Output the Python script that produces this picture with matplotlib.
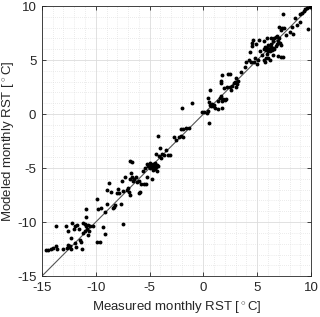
import matplotlib
matplotlib.use("Agg")
import matplotlib.pyplot as plt
from matplotlib.ticker import MultipleLocator

# Виміряні та змодельовані місячні RST (°C)
measured = [
    -14.6, -14.4, -14.2, -14.0, -13.7, -13.6, -13.7, -13.0, -12.7, -12.5,
    -12.6, -12.4, -12.3, -12.8, -12.6, -12.2, -12.0, -11.9, -11.7, -11.6,
    -12.3, -11.9, -11.8, -11.5, -11.4, -11.3, -11.2, -11.0, -10.9, -10.8,
    -10.7, -10.6, -10.5, -10.3, -11.0, -11.2, -10.7, -10.9, -10.9, -9.9,
    -9.6, -9.8, -9.5, -9.9, -9.3, -9.1, -9.1, -9.0, -9.0, -8.8,
    -8.6, -8.4, -8.3, -8.2, -8.0, -7.8, -7.7, -7.5, -7.9, -7.6,
    -7.5, -7.3, -7.1, -7.0, -6.9, -6.8, -6.7, -6.6, -6.5, -6.4,
    -6.3, -6.2, -6.0, -5.8, -6.0, -5.9, -6.8, -6.8, -6.6, -5.6,
    -5.4, -5.5, -5.3, -5.0, -4.9, -4.8, -4.7, -4.6, -4.5, -4.4,
    -4.3, -4.2, -5.1, -5.2, -5.0, -4.7, -4.5, -4.3, -5.2, -4.8,
    -4.4, -4.1, -4.0, -3.8, -3.7, -3.5, -3.3, -3.1, -3.9, -4.2,
    -2.7, -2.5, -2.3, -2.1, -1.9, -2.1, -1.9, -1.6, -1.3, -2.0,
    -1.1, -0.1, 0.1, 0.3, 0.4, 0.5, 0.4, 0.6, 0.5, 0.6,
    0.7, 0.8, 0.9, 1.0, 1.1, 1.4, 1.5, 1.6, 1.8, 1.7,
    2.0, 2.1, 1.4, 1.7, 1.6, 1.7, 2.3, 2.5, 1.6, 1.9,
    2.2, 2.5, 2.7, 2.8, 2.9, 3.0, 3.1, 3.2, 3.0, 2.6,
    3.5, 3.9, 4.0, 4.2, 4.3, 4.5, 4.6, 4.5, 4.4, 4.7,
    4.8, 4.9, 5.0, 5.1, 5.3, 5.4, 5.6, 5.7, 5.8, 5.9,
    6.0, 6.1, 6.2, 6.3, 6.4, 6.5, 6.6, 6.7, 6.8, 6.9,
    6.6, 6.5, 6.7, 6.8, 7.0, 7.1, 7.2, 6.9, 7.2, 7.4,
    6.5, 6.2, 6.0, 5.8, 5.6, 5.7, 5.6, 5.2, 5.9, 6.3,
    6.0, 5.9, 6.3, 7.2, 7.0, 7.3, 7.5, 7.4, 7.7, 8.0,
    8.3, 8.5, 8.7, 8.2, 9.0, 9.2, 9.3, 9.4, 9.6, 9.9,
    9.7, 9.0,
]
modeled = [
    -12.6, -12.6, -12.5, -12.4, -12.2, -12.5, -10.4, -12.5, -12.4, -12.3,
    -12.1, -12.2, -12.5, -10.4, -10.8, -10.1, -10.6, -10.4, -10.3, -10.6,
    -11.5, -11.9, -12.3, -11.7, -11.8, -12.5, -10.1, -10.2, -10.4, -10.6,
    -10.3, -10.8, -10.4, -10.4, -10.8, -11.0, -11.2, -8.8, -9.5, -11.8,
    -11.8, -8.8, -8.7, -7.9, -10.5, -11.1, -9.1, -8.3, -7.0, -6.4,
    -7.2, -8.7, -8.6, -8.4, -7.3, -7.3, -8.3, -10.2, -6.9, -6.2,
    -7.1, -5.8, -7.0, -6.8, -7.2, -6.0, -5.5, -5.8, -6.2, -6.0,
    -5.8, -6.3, -6.2, -6.5, -7.3, -7.2, -7.5, -4.3, -4.4, -5.3,
    -5.0, -6.5, -6.5, -4.5, -4.7, -4.9, -4.6, -4.8, -4.5, -4.9,
    -4.7, -4.8, -4.8, -4.6, -5.0, -5.2, -5.1, -5.3, -5.8, -6.0,
    -3.7, -3.9, -3.1, -3.7, -3.8, -3.3, -3.8, -3.8, -4.1, -2.0,
    -2.1, -2.4, -2.1, -2.0, -2.1, -1.4, -1.4, -1.3, -1.3, 0.6,
    1.0, 0.2, 0.2, 0.1, 0.3, -0.8, 1.5, 2.2, 1.1, 0.8,
    0.7, 0.9, 0.7, 0.8, 0.6, 1.2, 1.5, 1.7, 1.4, 1.2,
    1.3, 1.4, 0.5, 0.6, 2.9, 3.6, 3.7, 3.7, 3.1, 2.4,
    2.5, 2.5, 2.6, 2.9, 3.0, 3.3, 2.8, 3.1, 2.5, 2.2,
    3.9, 4.4, 4.8, 5.0, 5.7, 6.3, 6.9, 6.6, 4.8, 4.8,
    5.2, 6.5, 4.6, 5.0, 5.8, 5.5, 6.0, 6.2, 5.9, 5.6,
    5.8, 6.0, 5.8, 6.2, 5.9, 6.1, 6.0, 6.3, 6.5, 6.8,
    7.0, 6.8, 7.1, 7.2, 7.0, 6.6, 6.4, 5.4, 5.3, 5.3,
    5.5, 5.0, 5.2, 5.2, 5.0, 4.8, 6.8, 6.9, 7.0, 7.0,
    6.4, 6.1, 6.5, 7.8, 8.1, 8.0, 8.0, 9.3, 7.3, 7.6,
    7.4, 8.9, 8.2, 8.1, 9.3, 9.4, 9.5, 9.7, 9.8, 9.9,
    7.9, 8.5,
]

plt.rcParams['font.family'] = ['Liberation Sans', 'DejaVu Sans']
plt.rcParams['mathtext.fontset'] = 'custom'
plt.rcParams['mathtext.rm'] = 'Liberation Sans'
plt.rcParams['axes.unicode_minus'] = False

ink = '#262626'
fig = plt.figure(figsize=(3.2, 3.17), dpi=100)
ax = fig.add_axes([0.131, 0.129, 0.841, 0.852])

ax.plot([-15, 10], [-15, 10], color='#555555', lw=0.8, zorder=2)
ax.plot(measured, modeled, 'o', color='black', ms=2.8, mew=0, zorder=3)

ax.set_xlim(-15, 10)
ax.set_ylim(-15, 10)
ax.xaxis.set_major_locator(MultipleLocator(5))
ax.yaxis.set_major_locator(MultipleLocator(5))
ax.xaxis.set_minor_locator(MultipleLocator(1))
ax.yaxis.set_minor_locator(MultipleLocator(1))

ax.grid(True, which='major', color='#dcdcdc', lw=0.6)
ax.grid(True, which='minor', color='#d8d8d8', lw=0.5, linestyle=(0, (1, 2)))
ax.set_axisbelow(True)

ax.tick_params(which='both', direction='in', top=True, right=True,
               colors=ink, labelsize=9.5)
ax.tick_params(which='major', length=3, width=0.6, pad=4)
ax.tick_params(which='minor', length=0)
for s in ax.spines.values():
    s.set_color(ink)
    s.set_linewidth(0.6)

ax.set_xlabel('Measured monthly RST [$^\\circ$C]', fontsize=9.5, color=ink)
ax.set_ylabel('Modeled monthly RST [$^\\circ$C]', fontsize=9.5, color=ink)
ax.xaxis.set_label_coords(0.5, -0.085)
ax.yaxis.set_label_coords(-0.093, 0.5)

fig.savefig('out.png', dpi=100)
